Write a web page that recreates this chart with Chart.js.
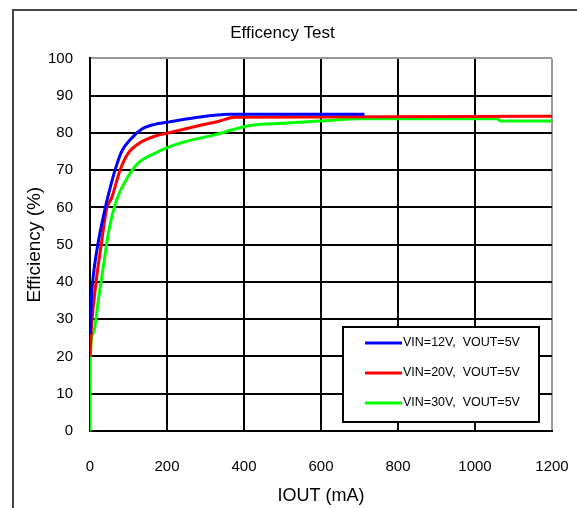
<!DOCTYPE html>
<html>
<head>
<meta charset="utf-8">
<script src="https://cdn.jsdelivr.net/npm/chart.js"></script>
<style>
  html, body { margin: 0; padding: 0; background: #fff; overflow: hidden; }
  #wrap { position: relative; width: 577px; height: 508px; overflow: hidden; }
  #frame { position: absolute; left: 12px; top: 9px; width: 620px; height: 560px; border: 2px solid #444; }
  #chart { position: absolute; left: 0; top: 0; }
</style>
</head>
<body>
<div id="wrap">
  <div id="frame"></div>
  <canvas id="chart" width="577" height="508"></canvas>
</div>
<script>
// IOUT (mA) / efficiency (%)
const iout12 = [1, 4, 9, 22, 39, 48, 65, 82, 108, 134, 168, 203, 268, 363, 713];
const eff12 = [26, 36, 42, 51, 59.6, 63.5, 70, 75, 78.6, 81, 82.3, 82.9, 84, 85, 85];

const iout20 = [0, 4, 17, 30, 43, 56, 78, 99, 134, 168, 203, 268, 337, 376, 1200];
const eff20 = [20, 28, 41, 50.6, 59.6, 62.5, 70, 74.5, 77.6, 79.1, 80, 81.6, 83.2, 84.2, 84.5];

const iout30 = [0, 0.5, 9, 22, 35, 48, 69, 99, 125, 168, 212, 242, 328, 415, 501, 596, 708, 1060, 1065, 1200];
const eff30 = [0, 19, 26.4, 35.4, 44.4, 53.3, 62, 68.3, 71.9, 74.5, 76.5, 77.5, 79.6, 82, 82.6, 83.2, 83.8, 83.8, 83.2, 83.2];

const seriesLabels = ['VIN=12V,  VOUT=5V', 'VIN=20V,  VOUT=5V', 'VIN=30V,  VOUT=5V'];
const seriesColors = ['#0000ff', '#ff0000', '#00ff00'];

const FONT = '"Liberation Sans", Arial, sans-serif';

const toPoints = (xs, ys) => xs.map((x, i) => ({ x, y: ys[i] }));

// boxed legend sitting inside the plot, bottom right
const legendBox = {
  id: 'legendBox',
  afterDraw(chart) {
    const { ctx, chartArea } = chart;
    const w = 196, h = 95;
    const x = chartArea.right - 13 - w;
    const y = chartArea.bottom - 9 - h;
    ctx.save();
    ctx.fillStyle = '#fff';
    ctx.fillRect(x, y, w, h);
    ctx.lineWidth = 2;
    ctx.strokeStyle = '#000';
    ctx.strokeRect(x, y, w, h);
    chart.data.datasets.forEach((ds, i) => {
      const ly = y + 16 + i * 30;
      ctx.strokeStyle = ds.borderColor;
      ctx.lineWidth = 3;
      ctx.beginPath();
      ctx.moveTo(x + 22, ly);
      ctx.lineTo(x + 59, ly);
      ctx.stroke();
      ctx.fillStyle = '#000';
      ctx.font = '12.5px ' + FONT;
      ctx.textBaseline = 'middle';
      ctx.fillText(ds.label, x + 60, ly);
    });
    ctx.restore();
  }
};

new Chart(document.getElementById('chart'), {
  type: 'line',
  data: {
    datasets: [
      { label: seriesLabels[0], data: toPoints(iout12, eff12), borderColor: seriesColors[0] },
      { label: seriesLabels[1], data: toPoints(iout20, eff20), borderColor: seriesColors[1] },
      { label: seriesLabels[2], data: toPoints(iout30, eff30), borderColor: seriesColors[2] }
    ]
  },
  options: {
    responsive: false,
    animation: false,
    devicePixelRatio: 1,
    layout: { padding: { left: 13, right: 25, top: 10, bottom: 0 } },
    elements: {
      point: { radius: 0 },
      line: { borderWidth: 3, fill: false, cubicInterpolationMode: 'monotone' }
    },
    plugins: {
      legend: { display: false },
      tooltip: { enabled: false },
      title: {
        display: true,
        text: 'Efficency Test',
        color: '#000',
        font: { family: FONT, size: 17, weight: 'normal' },
        padding: { top: 13, bottom: 15 }
      }
    },
    scales: {
      x: {
        type: 'linear',
        min: 0,
        max: 1200,
        afterFit: (s) => { s.height = 77; s.paddingLeft = 0; s.paddingRight = 0; },
        ticks: {
          stepSize: 200,
          color: '#000',
          padding: 27,
          format: { useGrouping: false },
          font: { family: FONT, size: 15 }
        },
        grid: {
          drawTicks: false,
          lineWidth: 2,
          color: (c) => (c.tick && c.tick.value === 1200 ? '#999' : '#000')
        },
        border: { color: '#000', width: 2 },
        title: {
          display: true,
          text: 'IOUT (mA)',
          color: '#000',
          font: { family: FONT, size: 18 },
          padding: { top: 0, bottom: 1 }
        }
      },
      y: {
        min: 0,
        max: 100,
        afterFit: (s) => { s.width = 77; },
        ticks: { stepSize: 10, color: '#000', padding: 17, font: { family: FONT, size: 15 } },
        grid: {
          drawTicks: false,
          lineWidth: 2,
          color: (c) => (c.tick && c.tick.value === 100 ? '#999' : '#000')
        },
        border: { color: '#000', width: 2 },
        title: {
          display: true,
          text: 'Efficiency (%)',
          color: '#000',
          font: { family: FONT, size: 19 },
          padding: { top: 10, bottom: 0 }
        }
      }
    }
  },
  plugins: [legendBox]
});
</script>
</body>
</html>
